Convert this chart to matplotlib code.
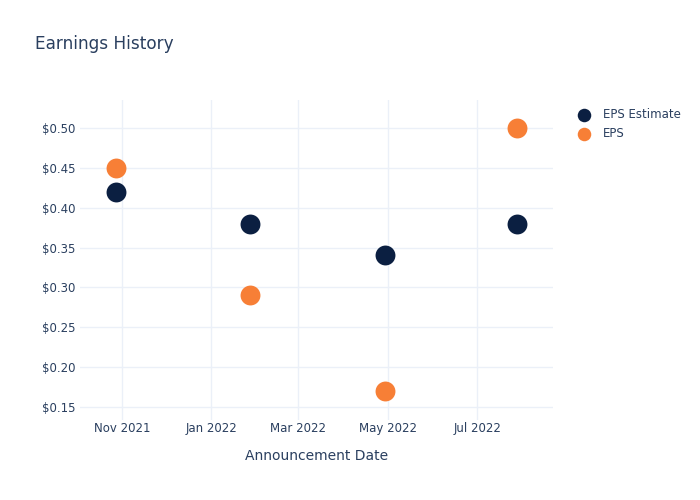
import numpy as np
import matplotlib.pyplot as plt
import matplotlib.dates as mdates

dates = np.array(['2021-10-28', '2022-01-27', '2022-04-29', '2022-07-28'], dtype='datetime64[D]')
eps_estimate = [0.42, 0.38, 0.34, 0.38]
eps_actual = [0.45, 0.29, 0.17, 0.50]
yticks = [0.15, 0.20, 0.25, 0.30, 0.35, 0.40, 0.45, 0.50]

navy = '#0b1f41'
orange = '#f77f36'
txt = '#2a3f5f'
grid = '#ebf0f8'

fig = plt.figure(figsize=(7, 5), dpi=100)
ax = fig.add_axes([80/700, 80/500, 473/700, 320/500])

ax.scatter(dates, eps_estimate, s=205, color=navy, label='EPS Estimate', zorder=3, linewidths=0)
ax.scatter(dates, eps_actual, s=205, color=orange, label='EPS', zorder=3, linewidths=0)

ax.set_xlim(np.datetime64('2021-10-03T12'), np.datetime64('2022-08-21T12'))
ax.set_ylim(0.1337, 0.535)
ax.set_yticks(yticks)
ax.yaxis.set_major_formatter(plt.FuncFormatter(lambda v, p: '$%.2f' % v))
ax.xaxis.set_major_locator(mdates.MonthLocator(bymonth=[1, 3, 5, 7, 9, 11]))
ax.xaxis.set_major_formatter(mdates.DateFormatter('%b %Y'))

for s in ax.spines.values():
    s.set_visible(False)
ax.grid(True, color=grid, linewidth=1)
ax.set_axisbelow(True)
ax.tick_params(length=0, colors=txt, labelsize=8.5)
ax.tick_params(axis='x', pad=1.5)
ax.tick_params(axis='y', pad=3)
ax.set_xlabel('Announcement Date', color=txt, fontsize=10, labelpad=10)

fig.text(35/700, 1 - 44/500, 'Earnings History', color=txt, fontsize=12.2, va='center')

leg = ax.legend(loc='upper left', bbox_to_anchor=(1.03, 0.99), frameon=False,
                fontsize=8.5, handletextpad=0.6, borderaxespad=0, labelspacing=0.5,
                markerscale=0.68)
for t in leg.get_texts():
    t.set_color(txt)

fig.savefig('out.png', dpi=100)
